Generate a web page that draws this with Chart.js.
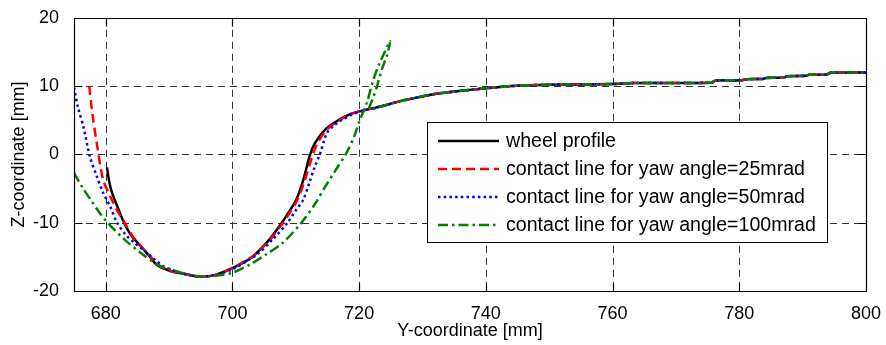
<!DOCTYPE html>
<html>
<head>
<meta charset="utf-8">
<script src="https://cdn.jsdelivr.net/npm/chart.js@4.4.0/dist/chart.umd.min.js"></script>
<style>
  html, body { margin: 0; padding: 0; background: #fff; }
</style>
</head>
<body>
<canvas id="myChart" width="886" height="345"></canvas>
<script>
const xTicks = [680, 700, 720, 740, 760, 780, 800];
const yTicks = [-20, -10, 0, 10, 20];
const seriesNames = [
  "wheel profile",
  "contact line for yaw angle=25mrad",
  "contact line for yaw angle=50mrad",
  "contact line for yaw angle=100mrad",
];

// tread part, shared by every curve right of ~722 mm
const tread = [
  [723.3, 7.0], [726.5, 7.8], [728.5, 8.2], [731.7, 8.8], [734.5, 9.15],
  [737.0, 9.4], [740.1, 9.7], [744.9, 10.05], [750.1, 10.2], [760.0, 10.3],
  [763.2, 10.45], [775.6, 10.5], [776.2, 10.8], [780.4, 10.85], [781.0, 11.0],
  [783.7, 11.05], [784.3, 11.2], [787.0, 11.25], [787.6, 11.45], [790.4, 11.5],
  [791.0, 11.65], [793.8, 11.7], [794.4, 11.95], [800.0, 12.0],
];

const wheelProfile = [
  [680.2, -1.9], [680.6, -4.2], [681.0, -5.6], [682.0, -8.0], [682.9, -10.0],
  [684.0, -11.8], [685.5, -13.4], [687.0, -15.0], [688.1, -16.2], [690.0, -17.0],
  [692.4, -17.5], [695.0, -17.9], [697.5, -17.6], [700.1, -16.6], [702.0, -15.7],
  [703.3, -14.9], [705.9, -12.4], [707.8, -10.0], [709.0, -8.3], [710.1, -6.6],
  [711.2, -3.7], [712.2, -0.2], [713.0, 1.6], [714.6, 3.6], [716.7, 5.0],
  [718.6, 5.9], [720.5, 6.4],
].concat(tread);

const yaw25 = [
  [677.4, 10.0], [677.9, 6.0], [678.6, 1.6], [679.6, -3.7], [680.7, -6.1],
  [681.8, -8.2], [683.0, -10.0], [684.2, -11.9], [685.6, -13.5], [687.1, -15.0],
  [688.3, -16.2], [690.0, -17.0], [692.4, -17.5], [695.0, -17.9], [697.5, -17.6],
  [700.1, -16.6], [702.0, -15.6], [703.4, -14.8], [706.1, -12.3], [708.0, -10.0],
  [709.3, -8.2], [710.4, -6.4], [711.5, -3.6], [712.5, -0.6], [713.4, 1.6],
  [714.9, 3.6], [716.9, 5.0], [718.7, 5.9], [720.5, 6.4],
].concat(tread);

const yaw50 = [
  [675.0, 9.8], [675.6, 7.0], [676.5, 4.0], [677.5, -0.3], [678.6, -3.2],
  [679.6, -5.6], [680.7, -7.6], [681.8, -10.0], [683.2, -11.8], [684.6, -13.0],
  [686.0, -14.0], [687.5, -15.2], [689.0, -16.3], [691.0, -17.1], [693.0, -17.6],
  [695.0, -17.9], [697.5, -17.6], [700.3, -16.7], [702.3, -15.6], [704.0, -14.6],
  [706.5, -12.3], [708.7, -10.0], [710.0, -8.2], [711.2, -6.6], [712.2, -4.0],
  [713.0, -1.8], [713.8, 0.0], [714.9, 3.1], [716.0, 4.2], [717.2, 5.0],
  [718.8, 5.8], [720.6, 6.4],
].concat(tread);

const yaw100 = [
  [675.0, -2.7], [676.3, -4.8], [677.6, -6.6], [679.0, -8.5], [680.3, -10.0],
  [682.9, -12.4], [685.5, -14.4], [688.1, -16.1], [690.8, -17.0], [693.0, -17.6],
  [695.5, -17.9], [698.0, -17.7], [700.1, -17.3], [702.8, -16.1], [705.4, -14.6],
  [708.0, -12.9], [710.9, -10.0], [713.0, -7.3], [714.6, -4.8], [716.3, -2.3],
  [718.0, 0.2], [719.2, 2.6], [720.1, 5.0], [721.2, 7.5], [722.2, 10.8],
  [723.2, 13.3], [724.0, 14.9], [724.9, 16.6], [724.4, 14.5], [723.6, 12.5],
  [722.8, 9.9], [722.1, 8.0], [721.6, 6.6],
].concat(tread);

const fontFamily = "'Liberation Sans', Arial, sans-serif";
Chart.defaults.font.family = fontFamily;
Chart.defaults.color = "#000";

const toXY = (pts) => pts.map(([x, y]) => ({ x, y }));

// order: higher is drawn first, so the 100mrad line ends up on top
const lineStyle = (data, color, dash, name, order) => ({
  label: name,
  data: toXY(data),
  borderColor: color,
  borderWidth: 2.5,
  borderDash: dash,
  pointRadius: 0,
  tension: 0.3,
  fill: false,
  order,
});

// MATLAB-style axes: dashed grid, boxed frame, inward ticks, legend inside
const frame = {
  id: "frame",
  beforeDatasetsDraw(chart) {
    const { ctx, chartArea: a, scales: { x, y } } = chart;
    ctx.save();
    ctx.strokeStyle = "#333";
    ctx.lineWidth = 1;
    ctx.setLineDash([7, 5]);
    ctx.beginPath();
    xTicks.forEach((v) => {
      const px = Math.round(x.getPixelForValue(v)) + 0.5;
      if (px > a.left + 2 && px < a.right - 2) {
        ctx.moveTo(px, a.top);
        ctx.lineTo(px, a.bottom);
      }
    });
    yTicks.forEach((v) => {
      const py = Math.round(y.getPixelForValue(v)) + 0.5;
      if (py > a.top + 2 && py < a.bottom - 2) {
        ctx.moveTo(a.left, py);
        ctx.lineTo(a.right, py);
      }
    });
    ctx.stroke();
    ctx.restore();
  },
  afterDatasetsDraw(chart) {
    const { ctx, chartArea: a, scales: { x, y } } = chart;
    const L = Math.round(a.left) + 0.5, R = Math.round(a.right) + 0.5;
    const T = Math.round(a.top) + 0.5, B = Math.round(a.bottom) + 0.5;
    const tk = 8;
    ctx.save();
    ctx.strokeStyle = "#000";
    ctx.lineWidth = 1.2;
    ctx.beginPath();
    ctx.rect(L, T, R - L, B - T);
    xTicks.forEach((v) => {
      const px = Math.round(x.getPixelForValue(v)) + 0.5;
      ctx.moveTo(px, B); ctx.lineTo(px, B - tk);
      ctx.moveTo(px, T); ctx.lineTo(px, T + tk);
    });
    yTicks.forEach((v) => {
      const py = Math.round(y.getPixelForValue(v)) + 0.5;
      ctx.moveTo(L, py); ctx.lineTo(L + tk, py);
      ctx.moveTo(R, py); ctx.lineTo(R - tk, py);
    });
    ctx.stroke();
    ctx.restore();
  },
  afterDraw(chart) {
    const { ctx } = chart;
    const box = { left: 427.5, top: 122.5, right: 827.5, bottom: 242.5 };
    ctx.save();
    ctx.fillStyle = "#fff";
    ctx.fillRect(box.left, box.top, box.right - box.left, box.bottom - box.top);
    ctx.strokeStyle = "#000";
    ctx.lineWidth = 1;
    ctx.strokeRect(box.left, box.top, box.right - box.left, box.bottom - box.top);
    ctx.font = "19.6px " + fontFamily;
    ctx.textBaseline = "middle";
    ctx.textAlign = "left";
    chart.data.datasets.forEach((ds, i) => {
      const cy = 141 + i * 28;
      ctx.strokeStyle = ds.borderColor;
      ctx.lineWidth = ds.borderWidth;
      ctx.setLineDash(ds.borderDash);
      ctx.beginPath();
      ctx.moveTo(438, cy);
      ctx.lineTo(499, cy);
      ctx.stroke();
      ctx.setLineDash([]);
      ctx.fillStyle = "#000";
      ctx.fillText(ds.label, 506, cy + 1);
    });
    ctx.restore();
  },
};

new Chart(document.getElementById("myChart"), {
  type: "line",
  data: {
    datasets: [
      lineStyle(wheelProfile, "#000000", [], seriesNames[0], 4),
      lineStyle(yaw25, "#ff0000", [9, 5], seriesNames[1], 3),
      lineStyle(yaw50, "#0000ff", [2.5, 3.2], seriesNames[2], 2),
      lineStyle(yaw100, "#008000", [10, 4, 2.5, 4], seriesNames[3], 1),
    ],
  },
  options: {
    responsive: false,
    animation: false,
    layout: { padding: { left: 0, right: 20, top: 17, bottom: 0 } },
    plugins: { legend: { display: false }, tooltip: { enabled: false } },
    scales: {
      x: {
        type: "linear",
        min: 675,
        max: 800,
        afterBuildTicks: (s) => { s.ticks = xTicks.map((v) => ({ value: v })); },
        afterFit: (s) => { s.height = 54; },
        grid: { display: false },
        border: { display: false },
        ticks: { font: { size: 18 }, padding: 4, maxRotation: 0 },
        title: { display: true, text: "Y-coordinate [mm]", font: { size: 18 }, padding: { top: 0, bottom: 3 } },
      },
      y: {
        type: "linear",
        min: -20,
        max: 20,
        afterBuildTicks: (s) => { s.ticks = yTicks.map((v) => ({ value: v })); },
        afterFit: (s) => { s.width = 74; },
        grid: { display: false },
        border: { display: false },
        ticks: { font: { size: 18 }, padding: 7 },
        title: { display: true, text: "Z-coordinate [mm]", font: { size: 18 }, padding: { top: 8, bottom: 0 } },
      },
    },
  },
  plugins: [frame],
});
</script>
</body>
</html>
